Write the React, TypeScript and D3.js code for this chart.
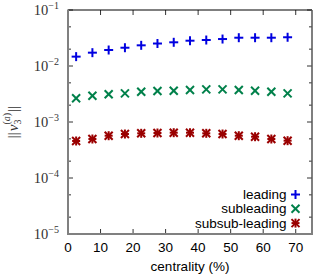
import React from "react";
import * as d3 from "d3";

const centrality = [2.5, 7.5, 12.5, 17.5, 22.5, 27.5, 32.5, 37.5, 42.5, 47.5, 52.5, 57.5, 62.5, 67.5];
const leading = [0.0147, 0.0173, 0.0193, 0.0212, 0.0234, 0.0252, 0.0265, 0.0283, 0.0291, 0.0303, 0.032, 0.032, 0.032, 0.0326];
const subleading = [0.00265, 0.00295, 0.00313, 0.00325, 0.00347, 0.00358, 0.00362, 0.00373, 0.00383, 0.00383, 0.00373, 0.00362, 0.00347, 0.00325];
const subsubleading = [0.000458, 0.000497, 0.000569, 0.00061, 0.000628, 0.000636, 0.000644, 0.000644, 0.000628, 0.00061, 0.000569, 0.000546, 0.000497, 0.000464];
const xTicks = [0, 10, 20, 30, 40, 50, 60, 70];
const yMajor = [1e-5, 1e-4, 1e-3, 1e-2, 1e-1];
const yExps = ["−5", "−4", "−3", "−2", "−1"];
const seriesNames = ["leading", "subleading", "subsub-leading"];

const W = 314, H = 278;
const L = 68, R = 312, T = 10, B = 234;

const BLUE = "#0000e0";
const GREEN = "#00804a";
const RED = "#9a0000";

function Plus({ x, y, c }: { x: number; y: number; c: string }) {
  const s = 4.5;
  return (
    <g stroke={c} strokeWidth={2}>
      <line x1={x - s} x2={x + s} y1={y} y2={y} />
      <line x1={x} x2={x} y1={y - s} y2={y + s} />
    </g>
  );
}
function Cross({ x, y, c }: { x: number; y: number; c: string }) {
  const s = 4;
  return (
    <g stroke={c} strokeWidth={2}>
      <line x1={x - s} x2={x + s} y1={y - s} y2={y + s} />
      <line x1={x - s} x2={x + s} y1={y + s} y2={y - s} />
    </g>
  );
}
function Star({ x, y, c }: { x: number; y: number; c: string }) {
  const s = 4;
  return (
    <g stroke={c} strokeWidth={2}>
      <line x1={x - s} x2={x + s} y1={y - s} y2={y + s} />
      <line x1={x - s} x2={x + s} y1={y + s} y2={y - s} />
      <line x1={x} x2={x} y1={y - s - 0.5} y2={y + s + 0.5} />
      <line x1={x - s} x2={x + s} y1={y} y2={y} />
    </g>
  );
}

export default function App() {
  const x = d3.scaleLinear().domain([0, 75]).range([L, R]);
  const y = d3.scaleLog().domain([1e-5, 1e-1]).range([B, T]);
  const minor: number[] = [];
  for (let e = -5; e < -1; e++) {
    minor.push(2 * Math.pow(10, e), 5 * Math.pow(10, e));
  }
  const markers = [Plus, Cross, Star];
  const colors = [BLUE, GREEN, RED];
  const data = [leading, subleading, subsubleading];
  const serif = "'Liberation Serif', 'DejaVu Serif', serif";
  const sans = "'Liberation Sans', Arial, sans-serif";
  return (
    <svg width={W} height={H} style={{ position: "absolute", left: 0, top: 0 }}>
      <rect width={W} height={H} fill="#fff" />
      {/* ticks */}
      {xTicks.filter((t) => t > 0).map((t) => (
        <g key={"xt" + t} stroke="#333" strokeWidth={1}>
          <line x1={x(t)} x2={x(t)} y1={B} y2={B - 5} />
          <line x1={x(t)} x2={x(t)} y1={T} y2={T + 5} />
        </g>
      ))}
      {yMajor.map((t) => (
        <g key={"ym" + t} stroke="#333" strokeWidth={1}>
          <line x1={L} x2={L + 5} y1={y(t)} y2={y(t)} />
          <line x1={R} x2={R - 5} y1={y(t)} y2={y(t)} />
        </g>
      ))}
      {minor.map((t) => (
        <g key={"yn" + t} stroke="#333" strokeWidth={1}>
          <line x1={L} x2={L + 3} y1={y(t)} y2={y(t)} />
          <line x1={R} x2={R - 3} y1={y(t)} y2={y(t)} />
        </g>
      ))}
      {/* frame */}
      <line x1={L} x2={R} y1={T} y2={T} stroke="#000" strokeWidth={1} />
      <line x1={R} x2={R} y1={T} y2={B} stroke="#555" strokeWidth={1.5} />
      <line x1={L} x2={L} y1={T - 0.5} y2={B + 1} stroke="#808080" strokeWidth={2} />
      <line x1={L - 1} x2={R + 1} y1={B} y2={B} stroke="#808080" strokeWidth={2} />
      {/* x tick labels */}
      {xTicks.map((t) => (
        <text key={"xl" + t} x={x(t)} y={B + 18} textAnchor="middle" fontFamily={sans} fontSize={13.5} fill="#000">
          {t}
        </text>
      ))}
      {/* y tick labels */}
      {yMajor.map((t, i) => (
        <text key={"yl" + t} x={L - 9} y={y(t) + 5} textAnchor="end" fontFamily={serif} fontSize={14.5} fill="#333">
          10
          <tspan fontSize={10} dy={-6}>{yExps[i]}</tspan>
        </text>
      ))}
      {/* axis titles */}
      <text x={190} y={271} textAnchor="middle" fontFamily={sans} fontSize={13.5} fill="#000">
        centrality (%)
      </text>
      <g transform="translate(18,122) rotate(-90)">
        <text x={0} y={0} textAnchor="middle" fontFamily={serif} fontSize={15} fill="#333">
          ||<tspan fontStyle="italic" dx={1}>v</tspan>
          <tspan fontSize={10} dy={3}>3</tspan>
          <tspan fontSize={10} dx={-5} dy={-11}>(</tspan>
          <tspan fontSize={10} fontStyle="italic">a</tspan>
          <tspan fontSize={10}>)</tspan>
          <tspan dy={8} dx={1}>||</tspan>
        </text>
      </g>
      {/* data */}
      {data.map((vals, si) =>
        vals.map((v, i) => {
          const M = markers[si];
          return <M key={si + "-" + i} x={x(centrality[i])} y={y(v)} c={colors[si]} />;
        })
      )}
      {/* legend */}
      {seriesNames.map((n, i) => {
        const M = markers[i];
        const ly = 194.5 + i * 14.3;
        return (
          <g key={"lg" + n}>
            <text x={286.5} y={ly + 4.5} textAnchor="end" fontFamily={sans} fontSize={13.5} fill="#000">
              {n}
            </text>
            <M x={295.5} y={ly} c={colors[i]} />
          </g>
        );
      })}
    </svg>
  );
}
